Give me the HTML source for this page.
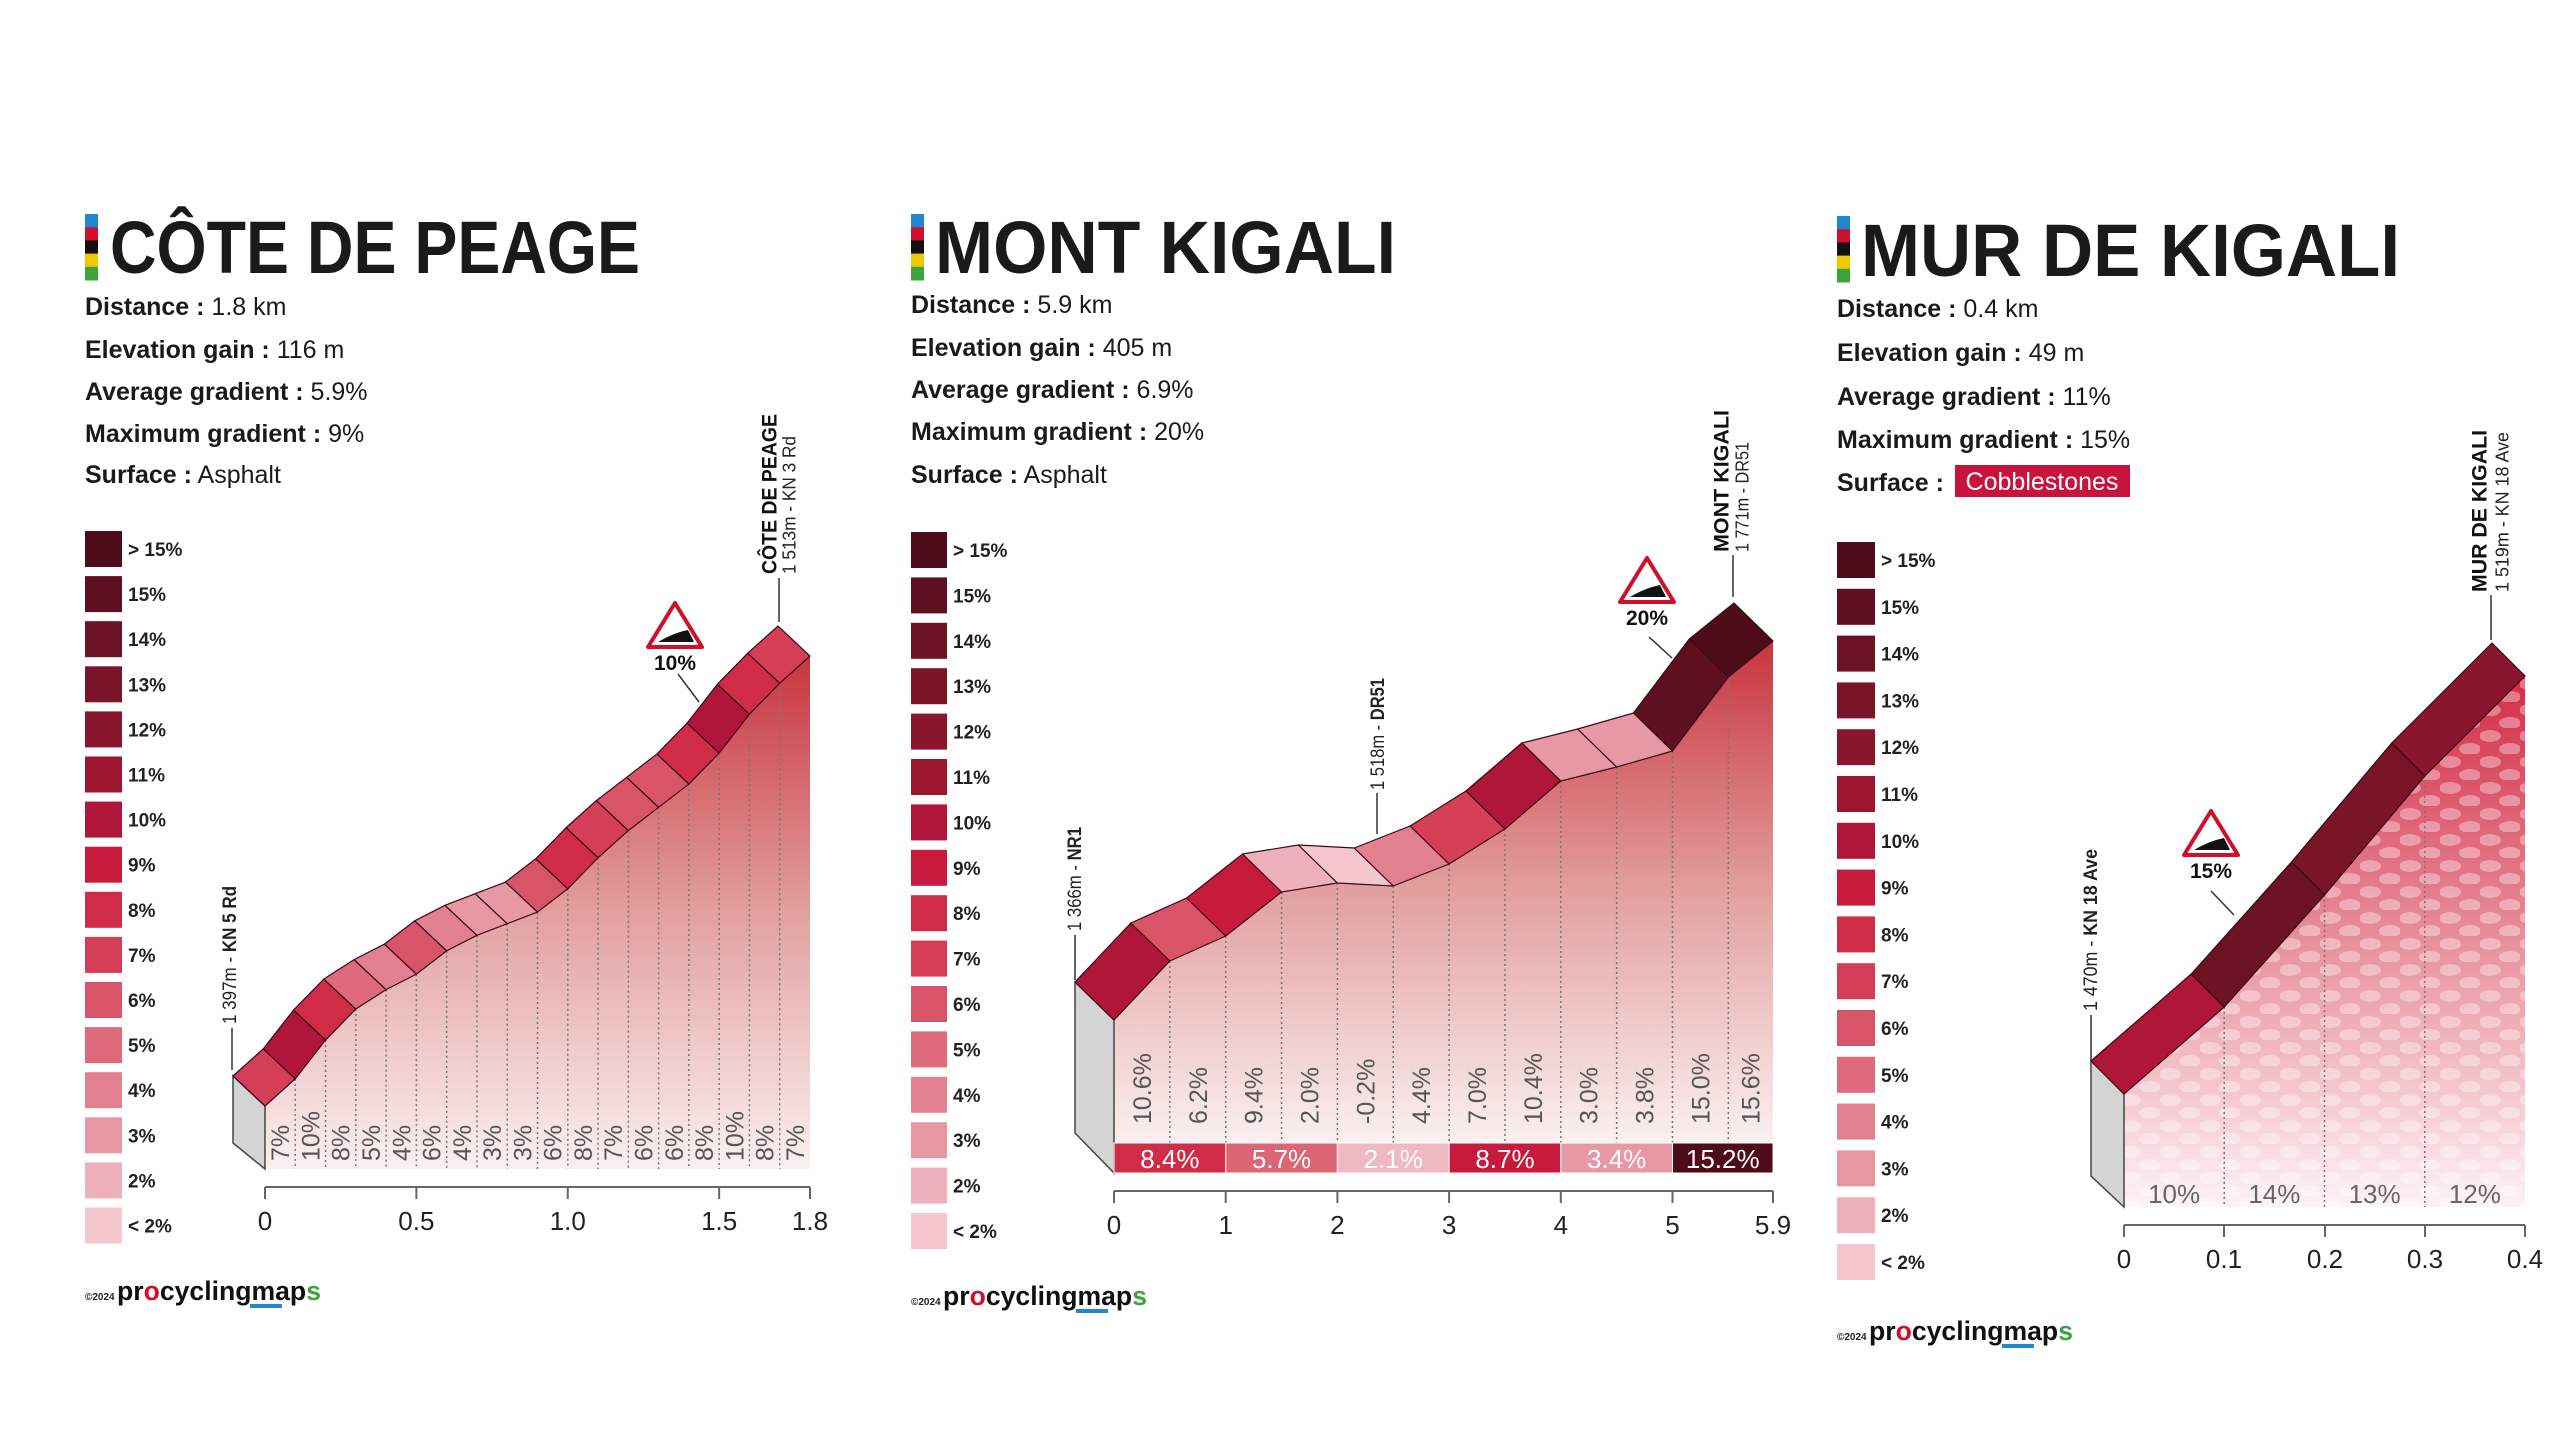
<!DOCTYPE html>
<html><head><meta charset="utf-8"><style>
html,body{margin:0;padding:0;background:#fff;}
svg{display:block;}
text{font-family:"Liberation Sans",sans-serif;}
</style></head><body>
<svg id="s" width="2560" height="1440" viewBox="0 0 2560 1440" xmlns="http://www.w3.org/2000/svg">
<defs>
<pattern id="cob" x="0" y="0" width="40" height="26" patternUnits="userSpaceOnUse">
<ellipse cx="10" cy="8" rx="11" ry="6" fill="#fff" opacity="0.35"/>
<ellipse cx="30" cy="21" rx="11" ry="6" fill="#fff" opacity="0.35"/>
</pattern>
</defs>
</svg>
<script>
const S=document.getElementById('s');
let out='';
const LEG=['#4e0c1a','#5e0f20','#6b1224','#7a1428','#8a152e','#9c1630','#b0163a','#c81a3c','#d02c48','#d43e56','#d85468','#de6a7c','#e2808f','#e898a5','#eeb0bb','#f4c6ce'];
const LAB=['> 15%','15%','14%','13%','12%','11%','10%','9%','8%','7%','6%','5%','4%','3%','2%','< 2%'];
function col(g){if(g>15)return LEG[0];if(g<2)return LEG[15];return LEG[16-Math.floor(g)];}
function vtext(cx,yb,str,size,fill,extra){return `<text transform="translate(${cx+size*0.36},${yb}) rotate(-90)" font-size="${size}" fill="${fill||'#222'}" ${extra||''}>${str}</text>`;}
function header(p){
 const sx=p.sx,cols=['#1e88d0','#d0102a','#111','#f0c800','#3aa53a'];
 const h=(p.sy2-p.sy1)/5;
 cols.forEach((c,i)=>out+=`<rect x="${sx}" y="${p.sy1+i*h}" width="${p.sw}" height="${h+0.5}" fill="${c}"/>`);
 out+=`<text x="${p.tx}" y="${p.ty}" font-size="74" font-weight="bold" fill="#1a1a1a" textLength="${p.tw}" lengthAdjust="spacingAndGlyphs">${p.title}</text>`;
 p.stats.forEach((s,i)=>{
  out+=`<text x="${p.lx}" y="${p.statY[i]+9}" font-size="25" fill="#1a1a1a"><tspan font-weight="bold">${s[0]} :</tspan> ${s[1]}</text>`;
 });
 for(let i=0;i<16;i++){
  const y=p.legY+i*p.legP;
  out+=`<rect x="${p.lx}" y="${y}" width="${p.legW}" height="36" fill="${LEG[i]}"/>`;
  out+=`<text x="${p.lx+p.legW+6}" y="${y+25}" font-size="19" fill="#222" font-weight="bold">${LAB[i]}</text>`;
 }
 const ly=p.logoY;
 out+=`<text x="${p.lx}" y="${ly}" font-size="10" font-weight="bold" fill="#222">©2024</text>`;
 out+=`<text x="${p.lx+32}" y="${ly}" font-size="27" font-weight="bold" fill="#111" textLength="204" lengthAdjust="spacingAndGlyphs">pr<tspan fill="#d0102a">o</tspan>cyclingmap<tspan fill="#3aa53a">s</tspan></text>`;
 out+=`<rect x="${p.lx+165}" y="${ly+4}" width="32" height="4" fill="#1e88d0"/>`;
}
function sign(cx,cy,label){
 const t=cy-23,b=cy+21;
 out+=`<polygon points="${cx},${t} ${cx-27},${b} ${cx+27},${b}" fill="#fff" stroke="#d0102a" stroke-width="4" stroke-linejoin="round"/>`;
 out+=`<path d="M${cx-17},${b-5} L${cx+19},${b-5} L${cx+13},${b-17} Q${cx-2},${b-14} ${cx-17},${b-5}Z" fill="#111"/>`;
 out+=`<text x="${cx}" y="${b+23}" font-size="21" font-weight="bold" text-anchor="middle" fill="#111">${label}</text>`;
}
function chart(p){
 const F=p.pts,o=p.off,n=F.length;
 const top=Math.min(...F.map(q=>q[1]));
 const gid='g'+p.id;
 out+=`<linearGradient id="${gid}" x1="0" y1="${top}" x2="0" y2="${p.bot}" gradientUnits="userSpaceOnUse"><stop offset="0" stop-color="${p.c1}"/><stop offset="0.5" stop-color="${p.c2}"/><stop offset="1" stop-color="${p.c3}"/></linearGradient>`;
 let poly=F.map(q=>q.join(',')).join(' ')+` ${F[n-1][0]},${p.bot} ${F[0][0]},${p.bot}`;
 out+=`<polygon points="${poly}" fill="url(#${gid})"/>`;
 if(p.pattern)out+=`<polygon points="${poly}" fill="url(#cob)"/>`;
 // wall
 out+=`<polygon points="${F[0][0]+o[0]},${F[0][1]+o[1]} ${F[0][0]},${F[0][1]} ${F[0][0]},${p.wallFB} ${F[0][0]+o[0]},${p.wallBB}" fill="#d4d4d4" stroke="#444" stroke-width="1.5"/>`;
 // dotted lines
 p.dots.forEach(i=>{const x=F[i][0];out+=`<line x1="${x}" y1="${F[i][1]}" x2="${x}" y2="${p.bot}" stroke="#777" stroke-width="1.5" stroke-dasharray="2,3"/>`;});
 // faces
 for(let i=0;i<n-1;i++){
  const a=F[i],b=F[i+1];
  out+=`<polygon points="${a[0]},${a[1]} ${b[0]},${b[1]} ${b[0]+o[0]},${b[1]+o[1]} ${a[0]+o[0]},${a[1]+o[1]}" fill="${col(p.g[i])}" stroke="#3a0a12" stroke-width="1.2" stroke-linejoin="round"/>`;
 }
 // axis
 out+=`<line x1="${F[0][0]}" y1="${p.axY}" x2="${F[n-1][0]}" y2="${p.axY}" stroke="#666" stroke-width="2"/>`;
 p.ticks.forEach(t=>{out+=`<line x1="${t[0]}" y1="${p.axY}" x2="${t[0]}" y2="${p.axY+12}" stroke="#666" stroke-width="2"/><text x="${t[0]}" y="${p.axY+43}" font-size="26" text-anchor="middle" fill="#222">${t[1]}</text>`;});
}
// ---------- Panel 1 ----------
(function(){
 header({sx:85,sw:13,sy1:214,sy2:280,tx:110,ty:273,tw:530,title:'CÔTE DE PEAGE',lx:85,
  stats:[['Distance','1.8 km'],['Elevation gain','116 m'],['Average gradient','5.9%'],['Maximum gradient','9%'],['Surface','Asphalt']],
  statY:[306,349,391,433,474],legY:531,legP:45.1,legW:37,logoY:1300});
 const g=[7,10,8,5,4,6,4,3,3,6,8,7,6,6,8,10,8,7];
 const pts=[[265,1106]];let y=1106;const w=(810-265)/18;
 g.forEach((v,i)=>{y-=v*3.879;pts.push([265+(i+1)*w,y]);});
 chart({id:1,pts,off:[-32,-30],bot:1169,wallFB:1169,wallBB:1143,g,c1:'#c8343f',c2:'#e2a09f',c3:'#fbf0f0',
  dots:[...Array(17).keys()].map(i=>i+1),axY:1187,
  ticks:[[265,'0'],[265+5*w,'0.5'],[265+10*w,'1.0'],[265+15*w,'1.5'],[810,'1.8']]});
 g.forEach((v,i)=>{out+=vtext(265+(i+0.5)*w,1161,v+'%',25,'#555');});
 out+=vtext(229,1024,'1 397m - <tspan font-weight="bold">KN 5 Rd</tspan>',19,'#222','textLength="138" lengthAdjust="spacingAndGlyphs"');
 out+=`<line x1="232" y1="1028" x2="232" y2="1070" stroke="#333" stroke-width="1.5"/>`;
 out+=vtext(769,574,'CÔTE DE PEAGE',21,'#111','font-weight="bold" textLength="160" lengthAdjust="spacingAndGlyphs"');
 out+=vtext(789,574,'1 513m - KN 3 Rd',18,'#222','textLength="138" lengthAdjust="spacingAndGlyphs"');
 out+=`<line x1="779" y1="578" x2="779" y2="622" stroke="#333" stroke-width="1.5"/>`;
 sign(675,626,'10%');
 out+=`<line x1="678" y1="674" x2="699" y2="702" stroke="#333" stroke-width="1.5"/>`;
})();
// ---------- Panel 2 ----------
(function(){
 header({sx:911,sw:13,sy1:214,sy2:280,tx:935,ty:273,tw:461,title:'MONT KIGALI',lx:911,
  stats:[['Distance','5.9 km'],['Elevation gain','405 m'],['Average gradient','6.9%'],['Maximum gradient','20%'],['Surface','Asphalt']],
  statY:[304,347,389,431,474],legY:532,legP:45.4,legW:36,logoY:1305});
 const g=[10.6,6.2,9.4,2.0,-0.2,4.4,7.0,10.4,3.0,3.8,15.0,15.6];
 const ys=[1020,961,936,892,883,886,864,829,781,767,751,677,641];
 const pts=ys.map((y,k)=>[k<12?1114+k*55.85:1773,y]);
 chart({id:2,pts,off:[-39,-38],bot:1143,wallFB:1173,wallBB:1133,g,c1:'#c8343f',c2:'#e2a09f',c3:'#fbf0f0',
  dots:[1,2,3,4,5,6,7,8,9,10,11],axY:1191,
  ticks:[[1114,'0'],[1225.7,'1'],[1337.4,'2'],[1449.1,'3'],[1560.8,'4'],[1672.5,'5'],[1773,'5.9']]});
 g.forEach((v,i)=>{const x=(pts[i][0]+pts[i+1][0])/2;out+=vtext(x,1124,v.toFixed(1)+'%',25,'#555');});
 const bands=[[8.4,'#d02c48'],[5.7,'#dc6676'],[2.1,'#f0b8c2'],[8.7,'#c81a3c'],[3.4,'#e898a5'],[15.2,'#4e0c1a']];
 bands.forEach((b,i)=>{const x1=pts[i*2][0],x2=pts[i*2+2][0];
  out+=`<rect x="${x1}" y="1143" width="${x2-x1}" height="30" fill="${b[1]}" stroke="#fff" stroke-width="1"/>`;
  out+=`<text x="${(x1+x2)/2}" y="1168" font-size="26" text-anchor="middle" fill="#fff">${b[0].toFixed(1)}%</text>`;});
 out+=vtext(1074,931,'1 366m - <tspan font-weight="bold">NR1</tspan>',19,'#222','textLength="104" lengthAdjust="spacingAndGlyphs"');
 out+=`<line x1="1075" y1="935" x2="1075" y2="980" stroke="#333" stroke-width="1.5"/>`;
 out+=vtext(1377,790,'1 518m - <tspan font-weight="bold">DR51</tspan>',19,'#222','textLength="112" lengthAdjust="spacingAndGlyphs"');
 out+=`<line x1="1377" y1="793" x2="1377" y2="834" stroke="#333" stroke-width="1.5"/>`;
 out+=vtext(1721,552,'MONT KIGALI',21,'#111','font-weight="bold" textLength="142" lengthAdjust="spacingAndGlyphs"');
 out+=vtext(1742,552,'1 771m - DR51',18,'#222','textLength="110" lengthAdjust="spacingAndGlyphs"');
 out+=`<line x1="1733" y1="555" x2="1733" y2="597" stroke="#333" stroke-width="1.5"/>`;
 sign(1647,581,'20%');
 out+=`<line x1="1649" y1="637" x2="1672" y2="658" stroke="#333" stroke-width="1.5"/>`;
})();
// ---------- Panel 3 ----------
(function(){
 header({sx:1837,sw:13,sy1:216,sy2:282,tx:1861,ty:276,tw:539,title:'MUR DE KIGALI',lx:1837,
  stats:[['Distance','0.4 km'],['Elevation gain','49 m'],['Average gradient','11%'],['Maximum gradient','15%'],['Surface','']],
  statY:[308,352,396,439,482],legY:542,legP:46.8,legW:38,logoY:1340});
 out+=`<rect x="1955" y="465" width="175" height="32" fill="#c8143c"/><text x="2042" y="490" font-size="25" text-anchor="middle" fill="#fff">Cobblestones</text>`;
 const g=[10,14,13,12];
 const ys=[1094,1007,895,776,676];
 const pts=ys.map((y,k)=>[2124+k*100.25,y]);
 chart({id:3,pts,off:[-33,-33],bot:1207,wallFB:1207,wallBB:1176,g,c1:'#d42c48',c2:'#e8909c',c3:'#fdf2f4',pattern:true,
  dots:[1,2,3],axY:1225,
  ticks:[[2124,'0'],[2224,'0.1'],[2325,'0.2'],[2425,'0.3'],[2525,'0.4']]});
 g.forEach((v,i)=>{out+=`<text x="${2124+(i+0.5)*100.25}" y="1203" font-size="26" text-anchor="middle" fill="#666">${v}%</text>`;});
 out+=vtext(2090,1011,'1 470m - <tspan font-weight="bold">KN 18 Ave</tspan>',19,'#222','textLength="162" lengthAdjust="spacingAndGlyphs"');
 out+=`<line x1="2091" y1="1015" x2="2091" y2="1060" stroke="#333" stroke-width="1.5"/>`;
 out+=vtext(2479,592,'MUR DE KIGALI',21,'#111','font-weight="bold" textLength="162" lengthAdjust="spacingAndGlyphs"');
 out+=vtext(2502,592,'1 519m - KN 18 Ave',18,'#222','textLength="160" lengthAdjust="spacingAndGlyphs"');
 out+=`<line x1="2491" y1="595" x2="2491" y2="640" stroke="#333" stroke-width="1.5"/>`;
 sign(2211,834,'15%');
 out+=`<line x1="2211" y1="891" x2="2234" y2="915" stroke="#333" stroke-width="1.5"/>`;
})();
S.insertAdjacentHTML('beforeend',out);
</script>
</body></html>
